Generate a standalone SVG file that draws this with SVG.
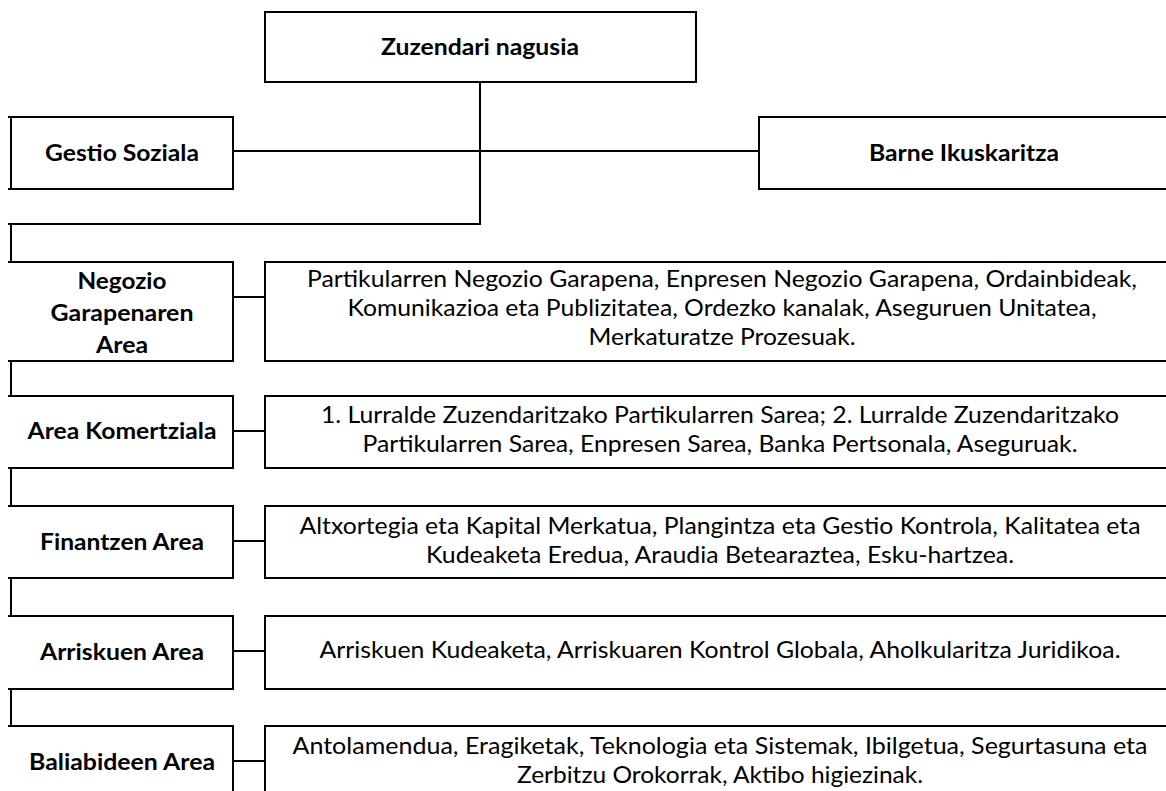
<svg xmlns="http://www.w3.org/2000/svg" width="1166" height="791" viewBox="0 0 1166 791">
<style>
.box{fill:#fff;stroke:#000;stroke-width:2}
.ln{fill:none;stroke:#000;stroke-width:2}
.lb{font-family:Lato,"Open Sans","Liberation Sans",sans-serif;font-weight:bold;font-size:23px;fill:#000;text-anchor:middle}
.ds{font-family:Lato,"Open Sans","Liberation Sans",sans-serif;font-size:23px;fill:#000;text-anchor:middle}
</style>
<rect width="1166" height="791" fill="#fff"/>
<g id="connectors" class="ln">
<path d="M480,82 V224 H8"/>
<path d="M11,224 V791"/>
<path d="M233,151 H759"/>
<path d="M233,297 H265"/>
<path d="M233,431 H265"/>
<path d="M233,541 H265"/>
<path d="M233,651 H265"/>
<path d="M233,761 H265"/>
</g>
<g id="zuzendari">
<rect class="box" x="265" y="12" width="431" height="70"/>
<text class="lb" x="480" y="55" textLength="198" lengthAdjust="spacingAndGlyphs">Zuzendari nagusia</text>
</g>
<g id="gestio">
<path class="box" d="M8,117 H233 V189 H8 M11,117 V189"/>
<text class="lb" x="122" y="161" textLength="154" lengthAdjust="spacingAndGlyphs">Gestio Soziala</text>
</g>
<g id="barne">
<rect class="box" x="759" y="117" width="430" height="72"/>
<text class="lb" x="964" y="161" textLength="190" lengthAdjust="spacingAndGlyphs">Barne Ikuskaritza</text>
</g>
<g id="negozio">
<path class="box" d="M8,262 H233 V361 H8"/>
<text class="lb" x="122" y="289" textLength="89" lengthAdjust="spacingAndGlyphs">Negozio</text>
<text class="lb" x="122" y="321" textLength="143" lengthAdjust="spacingAndGlyphs">Garapenaren</text>
<text class="lb" x="122" y="353" textLength="52" lengthAdjust="spacingAndGlyphs">Area</text>
</g>
<g id="negozio-d">
<rect class="box" x="265" y="262" width="930" height="99"/>
<text class="ds" x="722" y="287" textLength="830" lengthAdjust="spacingAndGlyphs">Partikularren Negozio Garapena, Enpresen Negozio Garapena, Ordainbideak,</text>
<text class="ds" x="722" y="316" textLength="749" lengthAdjust="spacingAndGlyphs">Komunikazioa eta Publizitatea, Ordezko kanalak, Aseguruen Unitatea,</text>
<text class="ds" x="722" y="345" textLength="267" lengthAdjust="spacingAndGlyphs">Merkaturatze Prozesuak.</text>
</g>
<g id="komertziala">
<path class="box" d="M8,396 H233 V468 H8"/>
<text class="lb" x="122" y="439" textLength="189" lengthAdjust="spacingAndGlyphs">Area Komertziala</text>
</g>
<g id="komertziala-d">
<rect class="box" x="265" y="396" width="930" height="72"/>
<text class="ds" x="720" y="423" textLength="798" lengthAdjust="spacingAndGlyphs">1. Lurralde Zuzendaritzako Partikularren Sarea; 2. Lurralde Zuzendaritzako</text>
<text class="ds" x="720" y="452" textLength="715" lengthAdjust="spacingAndGlyphs">Partikularren Sarea, Enpresen Sarea, Banka Pertsonala, Aseguruak.</text>
</g>
<g id="finantzen">
<path class="box" d="M8,506 H233 V578 H8"/>
<text class="lb" x="122" y="550" textLength="164" lengthAdjust="spacingAndGlyphs">Finantzen Area</text>
</g>
<g id="finantzen-d">
<rect class="box" x="265" y="506" width="930" height="72"/>
<text class="ds" x="720" y="534" textLength="841" lengthAdjust="spacingAndGlyphs">Altxortegia eta Kapital Merkatua, Plangintza eta Gestio Kontrola, Kalitatea eta</text>
<text class="ds" x="720" y="563" textLength="588" lengthAdjust="spacingAndGlyphs">Kudeaketa Eredua, Araudia Betearaztea, Esku-hartzea.</text>
</g>
<g id="arriskuen">
<path class="box" d="M8,616 H233 V689 H8"/>
<text class="lb" x="122" y="660" textLength="164" lengthAdjust="spacingAndGlyphs">Arriskuen Area</text>
</g>
<g id="arriskuen-d">
<rect class="box" x="265" y="616" width="930" height="73"/>
<text class="ds" x="720" y="658" textLength="801" lengthAdjust="spacingAndGlyphs">Arriskuen Kudeaketa, Arriskuaren Kontrol Globala, Aholkularitza Juridikoa.</text>
</g>
<g id="baliabideen">
<path class="box" d="M8,726 H233 V800 H8"/>
<text class="lb" x="122" y="770" textLength="186" lengthAdjust="spacingAndGlyphs">Baliabideen Area</text>
</g>
<g id="baliabideen-d">
<rect class="box" x="265" y="726" width="930" height="80"/>
<text class="ds" x="720" y="754" textLength="855" lengthAdjust="spacingAndGlyphs">Antolamendua, Eragiketak, Teknologia eta Sistemak, Ibilgetua, Segurtasuna eta</text>
<text class="ds" x="720" y="783" textLength="406" lengthAdjust="spacingAndGlyphs">Zerbitzu Orokorrak, Aktibo higiezinak.</text>
</g>
</svg>
